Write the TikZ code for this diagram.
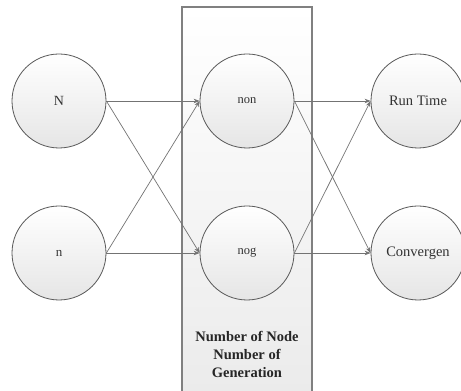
\documentclass[tikz,border=0pt]{standalone}
\usepackage{fontspec}
\setmainfont{Liberation Serif}
\usetikzlibrary{arrows.meta}
\tikzset{
  bubble/.style={circle, draw=black!65, line width=0.8pt, minimum size=94pt, inner sep=0pt,
    top color=white, bottom color=black!10, text=black!80},
  link/.style={draw=black!55, line width=0.7pt, -{Stealth[length=6pt,width=4.5pt]}},
  band/.style={draw=black!50, line width=1.2pt, top color=white, bottom color=black!8},
}
\begin{document}
\begin{tikzpicture}[x=1pt,y=1pt]
  \useasboundingbox (0,0) rectangle (461,391);
  % central band holding the middle layer
  \path[band] (182,-10) rectangle (312,384);
  \node[align=center, font=\fontsize{14.5}{18}\selectfont\bfseries, text=black!85] (caption) at (247,37)
    {Number of Node\\Number of\\Generation};
  % inputs
  \node[bubble, font=\fontsize{14}{16}\selectfont] (N) at (59,290) {N};
  \node[bubble, font=\fontsize{13}{16}\selectfont] (n) at (59,138) {n};
  % middle layer
  \node[bubble, font=\fontsize{12.5}{16}\selectfont] (non) at (247,290) {non};
  \node[bubble, font=\fontsize{12.5}{16}\selectfont] (nog) at (247,138) {nog};
  % outputs
  \node[bubble, font=\fontsize{14.5}{16}\selectfont] (rt) at (418,290) {Run Time};
  \node[bubble, font=\fontsize{14.5}{16}\selectfont] (cv) at (418,138) {Convergen};
  % connectors
  \draw[link] (N.east) -- (non.west);
  \draw[link] (N.east) -- (nog.west);
  \draw[link] (n.east) -- (non.west);
  \draw[link] (n.east) -- (nog.west);
  \draw[link] (non.east) -- (rt.west);
  \draw[link] (non.east) -- (cv.west);
  \draw[link] (nog.east) -- (rt.west);
  \draw[link] (nog.east) -- (cv.west);
\end{tikzpicture}
\end{document}
